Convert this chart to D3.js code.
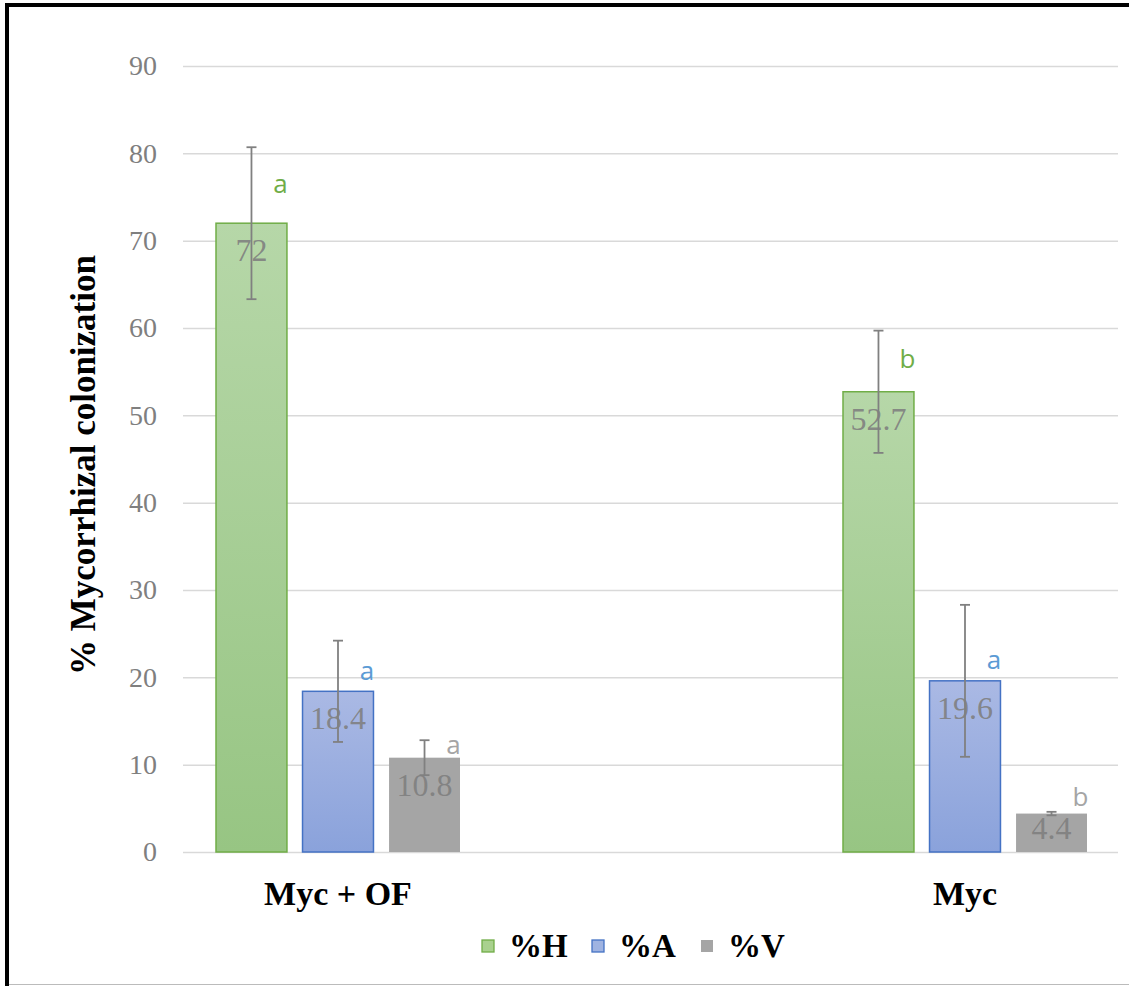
<!DOCTYPE html>
<html>
<head>
<meta charset="utf-8">
<script src="https://cdn.jsdelivr.net/npm/d3@7"></script>
<style>
  html, body { margin: 0; padding: 0; background: #fff; }
  svg { display: block; }
  .serif { font-family: "Liberation Serif", "Times New Roman", "DejaVu Serif", serif; }
  .sans { font-family: "Open Sans", "DejaVu Sans", sans-serif; }
</style>
</head>
<body>
<svg id="chart" width="1129" height="986"></svg>
<script>
// ---- Data ----
const categories = ["Myc + OF", "Myc"];
const seriesNames = ["%H", "%A", "%V"];
const valuesH = [72, 52.7];
const valuesA = [18.4, 19.6];
const valuesV = [10.8, 4.4];
const errorsH = [8.7, 7.0];
const errorsA = [5.8, 8.7];
const errorsV = [2.0, 0.2];
const lettersH = ["a", "b"];
const lettersA = ["a", "a"];
const lettersV = ["a", "b"];
const yTicks = [0, 10, 20, 30, 40, 50, 60, 70, 80, 90];
const yTitle = "% Mycorrhizal colonization";

const seriesValues = [valuesH, valuesA, valuesV];
const seriesErrors = [errorsH, errorsA, errorsV];
const seriesLetters = [lettersH, lettersA, lettersV];

// ---- Styles ----
const fillTop = ["#b6d7a8", "#aab9e4", "#a5a5a5"];
const fillBot = ["#97c583", "#8aa2db", "#a5a5a5"];
const strokeC = ["#70ad47", "#4472c4", "none"];
const letterC = ["#70ad47", "#5b9bd5", "#a5a5a5"];
const legendFill = ["#a9d18e", "#9fb3e1", "#a5a5a5"];

const svg = d3.select("#chart");

// frame
svg.append("rect").attr("x", 0).attr("y", 0).attr("width", 1129).attr("height", 986).attr("fill", "#fff");
svg.append("line").attr("x1", 5).attr("x2", 1129).attr("y1", 5).attr("y2", 5).attr("stroke", "#000").attr("stroke-width", 4);
svg.append("line").attr("x1", 7).attr("x2", 7).attr("y1", 3).attr("y2", 986).attr("stroke", "#000").attr("stroke-width", 4);
svg.append("line").attr("x1", 9).attr("x2", 1129).attr("y1", 984.5).attr("y2", 984.5).attr("stroke", "#bbb").attr("stroke-width", 1);

// scales
const y = d3.scaleLinear().domain([0, 90]).range([852, 66]);
const gridX0 = 183, gridX1 = 1118;
const xCat = d3.scalePoint().domain(categories).range([338, 965]);
const xSub = d3.scaleBand().domain(seriesNames).range([-122, 122]).paddingInner(0.18).paddingOuter(0);

// defs gradients
const defs = svg.append("defs");
seriesNames.forEach((s, i) => {
  const g = defs.append("linearGradient").attr("id", "grad" + i)
    .attr("x1", 0).attr("x2", 0).attr("y1", 0).attr("y2", 1);
  g.append("stop").attr("offset", "0%").attr("stop-color", fillTop[i]);
  g.append("stop").attr("offset", "100%").attr("stop-color", fillBot[i]);
});

// gridlines + tick labels
const yAxis = d3.axisLeft(y).tickValues(yTicks).tickSize(-(gridX1 - gridX0)).tickPadding(26);
const gAxis = svg.append("g").attr("transform", `translate(${gridX0},0)`).call(yAxis);
gAxis.attr("font-family", null).attr("font-size", null);
gAxis.select(".domain").remove();
gAxis.selectAll(".tick line").attr("stroke", "#d9d9d9").attr("stroke-width", 1.5);
gAxis.selectAll(".tick text")
  .attr("class", "serif")
  .attr("fill", "#7f7f7f")
  .style("font-size", "28px");

// y title
svg.append("text")
  .attr("class", "serif")
  .attr("transform", `translate(95,465) rotate(-90)`)
  .attr("text-anchor", "middle")
  .style("font-weight", "bold")
  .style("font-size", "35px")
  .attr("fill", "#000")
  .text(yTitle);

// bars
const bw = xSub.bandwidth();
seriesNames.forEach((s, i) => {
  const g = svg.append("g");
  categories.forEach((c, j) => {
    const v = seriesValues[i][j];
    const x0 = xCat(c) + xSub(s);
    const yTop = y(v);
    g.append("rect")
      .attr("x", x0).attr("y", yTop)
      .attr("width", bw).attr("height", y(0) - yTop)
      .attr("fill", `url(#grad${i})`)
      .attr("stroke", strokeC[i])
      .attr("stroke-width", strokeC[i] === "none" ? 0 : 1.5);
  });
});

// value labels
seriesNames.forEach((s, i) => {
  categories.forEach((c, j) => {
    const v = seriesValues[i][j];
    const cx = xCat(c) + xSub(s) + bw / 2;
    const yTop = y(v);
    const ly = Math.min(yTop + 38, (yTop + y(0)) / 2 + 6);
    svg.append("text")
      .attr("class", "serif")
      .attr("x", cx).attr("y", ly)
      .attr("text-anchor", "middle")
      .style("font-size", "32px")
      .attr("fill", "#7f7f7f")
      .attr("fill-opacity", 0.9)
      .text(String(v));
  });
});

// error bars
seriesNames.forEach((s, i) => {
  categories.forEach((c, j) => {
    const v = seriesValues[i][j], e = seriesErrors[i][j];
    const cx = xCat(c) + xSub(s) + bw / 2;
    const g = svg.append("g").attr("stroke", "#808080").attr("stroke-width", 1.8);
    g.append("line").attr("x1", cx).attr("x2", cx).attr("y1", y(v + e)).attr("y2", y(v - e));
    g.append("line").attr("x1", cx - 5).attr("x2", cx + 5).attr("y1", y(v + e)).attr("y2", y(v + e));
    g.append("line").attr("x1", cx - 5).attr("x2", cx + 5).attr("y1", y(v - e)).attr("y2", y(v - e));
  });
});

// significance letters
const letterOffsetY = [[-30, -24], [-11, -12], [-4, -8]];
seriesNames.forEach((s, i) => {
  categories.forEach((c, j) => {
    const v = seriesValues[i][j];
    const cx = xCat(c) + xSub(s) + bw / 2;
    svg.append("text")
      .attr("class", "sans")
      .attr("x", cx + 29).attr("y", y(v) + letterOffsetY[i][j])
      .attr("text-anchor", "middle")
      .style("font-size", "26px")
      .attr("fill", letterC[i])
      .text(seriesLetters[i][j]);
  });
});

// x labels
categories.forEach(c => {
  svg.append("text")
    .attr("class", "serif")
    .attr("x", xCat(c)).attr("y", 905)
    .attr("text-anchor", "middle")
    .style("font-weight", "bold")
    .style("font-size", "34px")
    .attr("fill", "#000")
    .text(c);
});

// legend
const legendX = [482, 592, 701];
seriesNames.forEach((s, i) => {
  const g = svg.append("g").attr("transform", `translate(${legendX[i]},940)`);
  g.append("rect").attr("x", 0).attr("y", 0).attr("width", 12).attr("height", 12)
    .attr("fill", legendFill[i])
    .attr("stroke", strokeC[i]).attr("stroke-width", strokeC[i] === "none" ? 0 : 1.3);
  g.append("text")
    .attr("class", "serif")
    .attr("x", 27).attr("y", 17)
    .style("font-weight", "bold")
    .style("font-size", "33px")
    .attr("fill", "#000")
    .text(s);
});
</script>
</body>
</html>
